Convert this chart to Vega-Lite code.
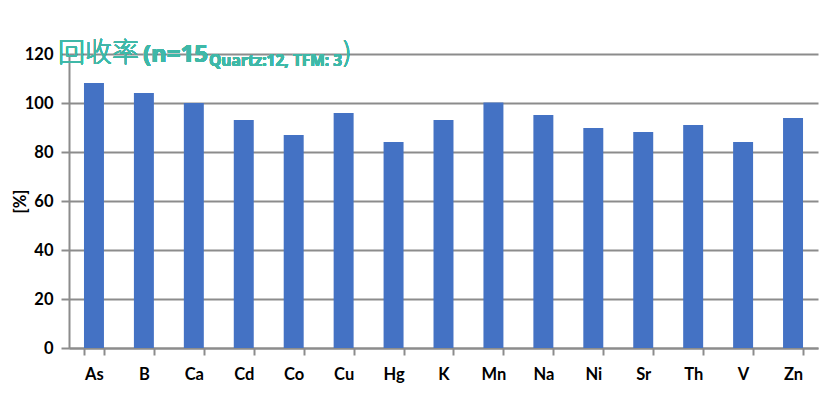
{
  "$schema": "https://vega.github.io/schema/vega-lite/v6.json",
  "autosize": "none",
  "width": 749,
  "height": 294,
  "padding": {"left": 69, "top": 54, "right": 14, "bottom": 47},
  "background": "white",
  "config": {
    "view": {"stroke": null},
    "font": "Lato"
  },
  "data": {
    "values": [
      {"element": "As", "recovery": 108.2},
      {"element": "B", "recovery": 104.1},
      {"element": "Ca", "recovery": 100},
      {"element": "Cd", "recovery": 93.1},
      {"element": "Co", "recovery": 86.9},
      {"element": "Cu", "recovery": 95.9},
      {"element": "Hg", "recovery": 84.1},
      {"element": "K", "recovery": 93.1},
      {"element": "Mn", "recovery": 100.2},
      {"element": "Na", "recovery": 95.1},
      {"element": "Ni", "recovery": 89.8},
      {"element": "Sr", "recovery": 88.2},
      {"element": "Th", "recovery": 91},
      {"element": "V", "recovery": 84.1},
      {"element": "Zn", "recovery": 93.9}
    ]
  },
  "layer": [
    {
      "mark": {"type": "bar", "color": "#4472C4"},
      "encoding": {
        "x": {
          "field": "element",
          "type": "nominal",
          "sort": null,
          "scale": {"paddingInner": 0.6, "paddingOuter": 0.3},
          "axis": {
            "title": null,
            "labelAngle": 0,
            "labelFont": "Lato",
            "labelFontWeight": "bold",
            "labelFontSize": 16.5,
            "labelColor": "#000000",
            "labelPadding": 11,
            "tickBand": "extent",
            "tickSize": 7,
            "tickWidth": 2,
            "tickColor": "#8c8c8c",
            "domainColor": "#8c8c8c",
            "domainWidth": 2,
            "grid": false
          }
        },
        "y": {
          "field": "recovery",
          "type": "quantitative",
          "scale": {"domain": [0, 120], "nice": false},
          "axis": {
            "title": "[%]",
            "titleFont": "Lato",
            "titleFontWeight": "bold",
            "titleFontSize": 16.5,
            "titleColor": "#000000",
            "titleX": -41,
            "titleY": 147,
            "values": [0, 20, 40, 60, 80, 100, 120],
            "labelFont": "Lato",
            "labelFontWeight": "bold",
            "labelFontSize": 16.5,
            "labelColor": "#000000",
            "labelPadding": 8,
            "tickSize": 8,
            "tickWidth": 2,
            "tickColor": "#8c8c8c",
            "domainColor": "#8c8c8c",
            "domainWidth": 2,
            "grid": true,
            "gridColor": "#8c8c8c",
            "gridWidth": 2
          }
        }
      }
    },
    {
      "mark": {"type": "text", "text": "回收率", "font": "Noto Sans CJK SC", "fontSize": 27, "fontWeight": 300, "color": "#3fb8a8", "align": "left", "baseline": "alphabetic", "dx": -36, "dy": 8},
      "encoding": {"x": {"datum": "As"}, "y": {"datum": 120}}
    },
    {
      "mark": {"type": "text", "text": "(n=15", "font": "Open Sans", "fontSize": 24, "fontWeight": "bold", "color": "#3fb8a8", "align": "left", "baseline": "alphabetic", "dx": 49, "dy": 8},
      "encoding": {"x": {"datum": "As"}, "y": {"datum": 120}}
    },
    {
      "mark": {"type": "text", "text": "Quartz:12, TFM: 3", "font": "Open Sans", "fontSize": 15.5, "fontWeight": "bold", "color": "#3fb8a8", "align": "left", "baseline": "alphabetic", "dx": 115, "dy": 12},
      "encoding": {"x": {"datum": "As"}, "y": {"datum": 120}}
    },
    {
      "mark": {"type": "text", "text": ")", "font": "Noto Sans CJK SC", "fontSize": 27, "fontWeight": 300, "color": "#3fb8a8", "align": "left", "baseline": "alphabetic", "dx": 249, "dy": 8},
      "encoding": {"x": {"datum": "As"}, "y": {"datum": 120}}
    }
  ]
}
